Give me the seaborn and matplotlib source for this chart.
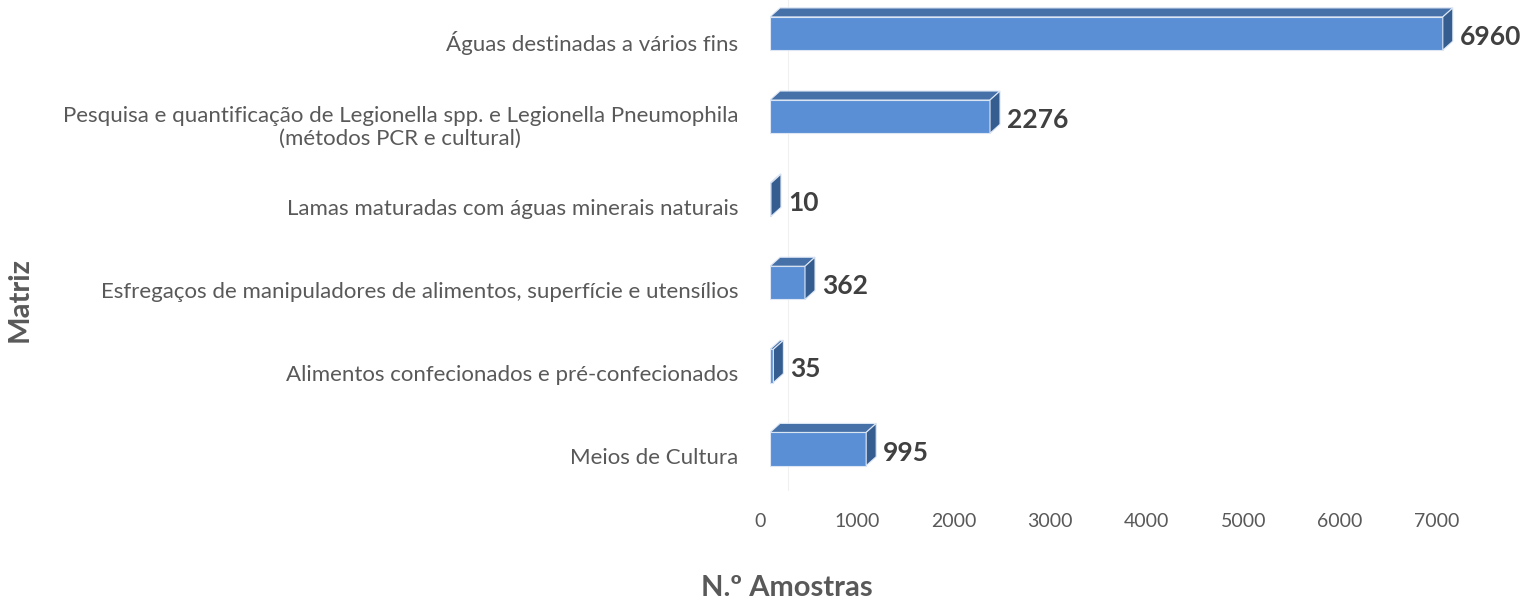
import pandas as pd
import seaborn as sns
import matplotlib.pyplot as plt
from matplotlib.patches import Polygon
from matplotlib.transforms import ScaledTranslation

# data
categorias = [
    "Águas destinadas a vários fins",
    "Pesquisa e quantificação de Legionella spp. e Legionella Pneumophila\n(métodos PCR e cultural)",
    "Lamas maturadas com águas minerais naturais",
    "Esfregaços de manipuladores de alimentos, superfície e utensílios",
    "Alimentos confecionados e pré-confecionados",
    "Meios de Cultura",
]
amostras = [6960, 2276, 10, 362, 35, 995]
xticks = [0, 1000, 2000, 3000, 4000, 5000, 6000, 7000]

df = pd.DataFrame({"Matriz": categorias, "N.º Amostras": amostras})

# colours of the 3d bars
front = "#5A8FD6"
top = "#4571A8"
side = "#365D8F"
edge = "#DCE6F4"
grey = "#595959"

sns.set_theme(style="white")
plt.rcParams["font.family"] = ["Lato", "DejaVu Sans"]

W, H = 1528, 603
fig = plt.figure(figsize=(W / 100, H / 100), dpi=100)
ax = fig.add_axes([770 / W, 1 - 490.6 / H, 725 / W, 490.3 / H])

sns.barplot(data=df, y="Matriz", x="N.º Amostras", orient="h", color=front,
            saturation=1, width=0.4, edgecolor=edge, linewidth=0.8, ax=ax)
ax.set_xlim(0, 7500)
ax.set_ylim(5.5, -0.4)

# depth of the fake 3d, in data units (10 px right, 9 px up)
dx = 10 / (ax.bbox.width / 7500)
dy = 9 / (ax.bbox.height / 5.9)

ax.axvline(dx * 1.8, color="#F0F0F0", lw=0.8, zorder=0)

for bar, v in zip(ax.patches, amostras):
    y0 = bar.get_y()
    h = bar.get_height()
    w = bar.get_width()
    ax.add_patch(Polygon([(0, y0), (w, y0), (w + dx, y0 - dy), (dx, y0 - dy)],
                         closed=True, fc=top, ec=edge, lw=0.8, zorder=3))
    ax.add_patch(Polygon([(w, y0), (w, y0 + h), (w + dx, y0 + h - dy), (w + dx, y0 - dy)],
                         closed=True, fc=side, ec=edge, lw=0.8, zorder=3))
    ax.annotate(str(v), xy=(w + dx, y0 + h / 2), xytext=(5, -2.5),
                textcoords="offset points", ha="left", va="center",
                fontsize=19, fontweight="bold", color="#404040")

ax.set_xticks(xticks)
ax.tick_params(axis="x", length=0, pad=16, labelsize=14, labelcolor=grey)
ax.tick_params(axis="y", length=0, pad=23, labelsize=16, labelcolor=grey)
for lbl in ax.get_xticklabels():
    lbl.set_transform(lbl.get_transform() + ScaledTranslation(-0.10, 0, fig.dpi_scale_trans))
for lbl in ax.get_yticklabels():
    lbl.set_multialignment("center")
    lbl.set_transform(lbl.get_transform() + ScaledTranslation(0, -0.07, fig.dpi_scale_trans))

ax.set_xlabel("")
ax.set_ylabel("")
sns.despine(ax=ax, left=True, bottom=True)

fig.text(787 / W, 1 - 588 / H, "N.º Amostras", ha="center", va="center",
         fontsize=21, fontweight="bold", color=grey)
fig.text(20 / W, 1 - 300 / H, "Matriz", ha="center", va="center", rotation=90,
         fontsize=21, fontweight="bold", color=grey)

fig.savefig("out.png", dpi=100)
